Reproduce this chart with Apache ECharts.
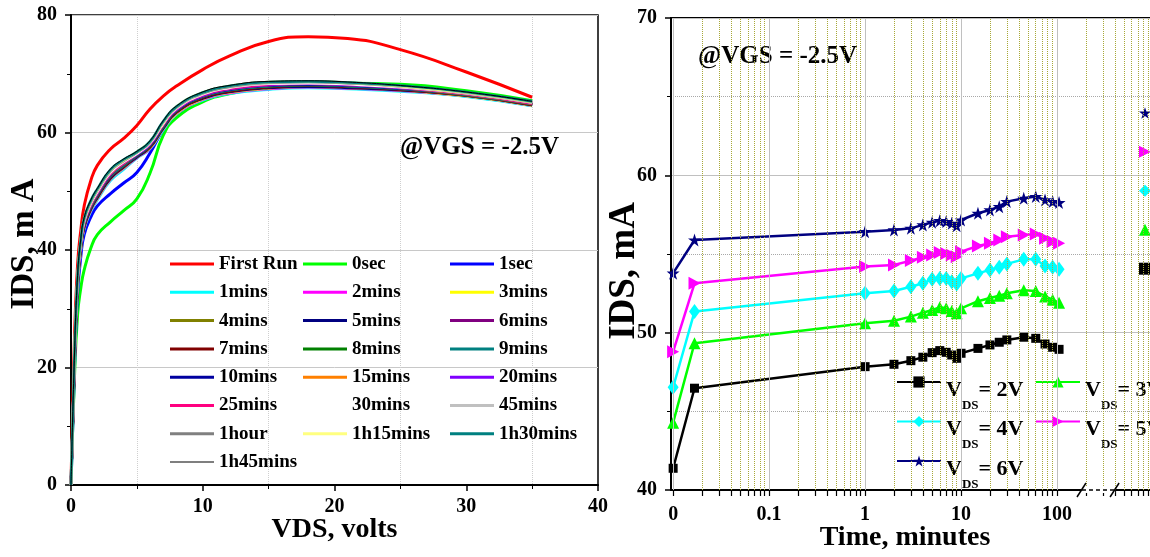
<!DOCTYPE html>
<html><head><meta charset="utf-8">
<script src="https://cdn.jsdelivr.net/npm/echarts@6/dist/echarts.min.js"></script>
<style>html,body{margin:0;padding:0;background:#fff;overflow:hidden}#c{width:1150px;height:557px}</style>
</head><body><div id="c"></div>
<script>
const FONT = '"Liberation Serif", "Times New Roman", serif';

// ---------- Left panel: IDS vs VDS ----------
const VDS = [0, 0.25, 0.5, 0.75, 1, 1.5, 2, 3, 4, 5, 6, 7, 8, 10, 12, 15, 18, 21, 25, 30, 35];
const I_FIRST_RUN = [0, 24, 37.5, 43.5, 47.5, 51.8, 54.4, 57.2, 59.0, 61.2, 64.0, 66.2, 67.9, 70.7, 73.0, 75.5, 76.3, 76.0, 74.1, 70.3, 66.0];
const I_0SEC  = [0, 17.5, 29.0, 33.6, 36.6, 40.3, 42.6, 44.8, 46.7, 48.7, 53.1, 59.5, 62.5, 65.2, 66.6, 67.6, 68.2, 68.4, 68.2, 67.1, 65.4];
const I_1SEC  = [0, 19.0, 32.5, 39.0, 42.6, 45.6, 47.5, 49.6, 51.4, 53.2, 56.5, 60.5, 63.3, 65.9, 67.0, 67.7, 67.9, 67.7, 67.2, 66.2, 64.6];
const I_1MIN  = [0, 18.8, 33.3, 40.0, 43.5, 46.5, 48.5, 51.8, 53.7, 55.6, 57.2, 60.4, 63.1, 65.5, 66.6, 67.3, 67.6, 67.4, 67.0, 66.1, 64.5];
const I_2MIN  = [0, 19.0, 33.5, 40.2, 43.7, 46.7, 48.7, 52.0, 53.9, 55.7, 57.3, 60.6, 63.2, 65.6, 66.7, 67.4, 67.7, 67.5, 67.1, 66.2, 64.6];
const I_3MIN  = [0, 19.2, 33.7, 40.3, 43.8, 46.8, 48.8, 52.1, 54.0, 55.8, 57.4, 60.6, 63.3, 65.7, 66.8, 67.5, 67.8, 67.6, 67.2, 66.2, 64.6];
const I_4MIN  = [0, 19.4, 33.9, 40.5, 44.0, 47.0, 49.0, 52.3, 54.2, 55.9, 57.5, 60.8, 63.5, 65.9, 67.0, 67.7, 67.9, 67.7, 67.3, 66.3, 64.7];
const I_5MIN  = [0, 19.3, 33.8, 40.4, 43.9, 46.9, 48.9, 52.2, 54.1, 55.8, 57.5, 60.7, 63.4, 65.8, 66.9, 67.6, 67.8, 67.6, 67.2, 66.3, 64.7];
const I_6MIN  = [0, 19.6, 34.1, 40.7, 44.2, 47.2, 49.2, 52.5, 54.3, 56.0, 57.7, 61.0, 63.6, 66.0, 67.1, 67.8, 68.0, 67.8, 67.4, 66.4, 64.8];
const I_7MIN  = [0, 19.5, 34.0, 40.6, 44.1, 47.1, 49.1, 52.4, 54.2, 56.0, 57.6, 60.9, 63.5, 65.9, 67.0, 67.7, 68.0, 67.8, 67.3, 66.3, 64.7];
const I_8MIN  = [0, 19.9, 34.4, 40.9, 44.4, 47.4, 49.4, 52.7, 54.5, 56.1, 57.8, 61.1, 63.7, 66.1, 67.2, 67.9, 68.1, 67.9, 67.5, 66.5, 64.9];
const I_9MIN  = [0, 19.8, 34.3, 40.8, 44.3, 47.3, 49.3, 52.6, 54.4, 56.1, 57.8, 61.0, 63.7, 66.1, 67.2, 67.9, 68.1, 67.9, 67.4, 66.4, 64.8];
const I_10MIN = [0, 20.0, 34.5, 41.0, 44.5, 47.5, 49.5, 52.8, 54.6, 56.2, 57.9, 61.2, 63.8, 66.2, 67.3, 68.0, 68.2, 68.0, 67.5, 66.5, 64.9];
const I_15MIN = [0, 20.1, 34.6, 41.1, 44.6, 47.6, 49.6, 52.9, 54.7, 56.3, 58.0, 61.3, 63.9, 66.3, 67.4, 68.1, 68.3, 68.1, 67.6, 66.5, 64.9];
const I_20MIN = [0, 20.2, 34.7, 41.2, 44.7, 47.7, 49.7, 53.0, 54.8, 56.3, 58.0, 61.4, 63.9, 66.3, 67.4, 68.1, 68.3, 68.1, 67.6, 66.6, 65.0];
const I_25MIN = [0, 20.4, 34.9, 41.3, 44.8, 47.8, 49.8, 53.1, 54.9, 56.4, 58.1, 61.4, 64.0, 66.4, 67.5, 68.2, 68.4, 68.2, 67.7, 66.6, 65.0];
const I_30MIN = [0, 20.5, 35.0, 41.4, 44.9, 47.9, 49.9, 53.2, 55.0, 56.4, 58.2, 61.5, 64.1, 66.5, 67.6, 68.3, 68.4, 68.2, 67.7, 66.7, 65.1];
const I_45MIN = [0, 20.7, 35.2, 41.6, 45.1, 48.1, 50.1, 53.4, 55.1, 56.6, 58.3, 61.7, 64.2, 66.6, 67.7, 68.4, 68.6, 68.4, 67.8, 66.7, 65.1];
const I_1HOUR = [0, 20.8, 35.3, 41.7, 45.2, 48.2, 50.2, 53.5, 55.2, 56.6, 58.4, 61.8, 64.3, 66.7, 67.8, 68.5, 68.6, 68.4, 67.9, 66.8, 65.2];
const I_1H15  = [0, 21.0, 35.5, 41.8, 45.3, 48.3, 50.3, 53.6, 55.3, 56.7, 58.5, 61.8, 64.4, 66.8, 67.9, 68.6, 68.7, 68.5, 67.9, 66.8, 65.2];
const I_1H30  = [0, 21.1, 35.6, 41.9, 45.4, 48.4, 50.4, 53.7, 55.4, 56.7, 58.5, 61.9, 64.4, 66.8, 67.9, 68.6, 68.7, 68.5, 68.0, 66.9, 65.3];
const I_1H45  = [0, 21.2, 35.7, 42.0, 45.5, 48.5, 50.5, 53.8, 55.5, 56.8, 58.6, 62.0, 64.5, 66.9, 68.0, 68.7, 68.8, 68.6, 68.0, 66.9, 65.3];

const RUN_NAMES = ['First Run','0sec','1sec','1mins','2mins','3mins','4mins','5mins','6mins','7mins','8mins','9mins',
  '10mins','15mins','20mins','25mins','30mins','45mins','1hour','1h15mins','1h30mins','1h45mins'];
const RUN_COLORS = ['#ff0000','#00ff00','#0000ff','#00ffff','#ff00ff','#ffff00','#808000','#000080','#800080','#800000','#008000','#008080',
  '#0000a0','#ff8000','#8000ff','#ff0080','#ffffff','#c0c0c0','#808080','#ffff80','#008080','#000000'];
const RUN_CURVES = [I_FIRST_RUN, I_0SEC, I_1SEC, I_1MIN, I_2MIN, I_3MIN, I_4MIN, I_5MIN, I_6MIN, I_7MIN, I_8MIN, I_9MIN,
  I_10MIN, I_15MIN, I_20MIN, I_25MIN, I_30MIN, I_45MIN, I_1HOUR, I_1H15, I_1H30, I_1H45];
const LEGEND_COL1 = ['First Run','1mins','4mins','7mins','10mins','25mins','1hour','1h45mins'];
const LEGEND_COL2 = ['0sec','2mins','5mins','8mins','15mins','30mins','1h15mins'];
const LEGEND_COL3 = ['1sec','3mins','6mins','9mins','20mins','45mins','1h30mins'];

// ---------- Right panel: IDS vs time ----------
const TIME_MIN = [0, 0.0167, 1, 2, 3, 4, 5, 6, 7, 8, 9, 10, 15, 20, 25, 30, 45, 60, 75, 90, 105];
const ZERO_POS = 0.01; // where "0" sits on the log axis
const I_VDS2 = [41.38, 46.47, 47.84, 47.99, 48.22, 48.44, 48.73, 48.86, 48.75, 48.58, 48.37, 48.69, 49.0, 49.22, 49.39, 49.54, 49.71, 49.64, 49.28, 49.07, 48.94];
const I_VDS3 = [44.28, 49.33, 50.6, 50.76, 51.02, 51.27, 51.44, 51.61, 51.55, 51.38, 51.23, 51.55, 52.0, 52.2, 52.35, 52.5, 52.7, 52.65, 52.3, 52.1, 51.9];
const I_VDS4 = [46.53, 51.34, 52.5, 52.65, 52.92, 53.14, 53.39, 53.45, 53.45, 53.24, 53.1, 53.45, 53.77, 53.99, 54.16, 54.37, 54.66, 54.66, 54.24, 54.16, 54.03];
const I_VDS5 = [48.79, 53.14, 54.2, 54.3, 54.58, 54.79, 54.94, 55.09, 55.03, 54.94, 54.83, 55.15, 55.51, 55.68, 55.89, 56.1, 56.21, 56.27, 56.0, 55.79, 55.68];
const I_VDS6 = [53.78, 55.89, 56.42, 56.53, 56.63, 56.85, 57.02, 57.12, 57.06, 56.95, 56.8, 57.16, 57.59, 57.8, 58.01, 58.33, 58.54, 58.65, 58.44, 58.33, 58.27];
const VDS_VOLTS = ['2V', '3V', '4V', '5V', '6V'];
const X_LABELS = {0.01: '0', 0.1: '0.1', 1: '1', 10: '10', 100: '100'};

const STAR = 'path://M5,0 L6.2,3.6 L10,3.6 L6.9,5.9 L8.1,9.5 L5,7.3 L1.9,9.5 L3.1,5.9 L0,3.6 L3.8,3.6 Z';
const RTRI = 'path://M0,0 L10,5 L0,10 Z';
const THIN = 'path://M0,0 L0.05,0 L0.05,0.05 L0,0.05 Z M0,1 L44,1 L44,2 L0,2 Z M0,2.95 L0.05,2.95 L0.05,3 L0,3 Z';
const VDS_STYLE = [
  {color: '#000000', symbol: 'rect', size: 9},
  {color: '#00ff00', symbol: 'triangle', size: 12},
  {color: '#00ffff', symbol: 'diamond', size: [11, 15]},
  {color: '#ff00ff', symbol: RTRI, size: [12, 13]},
  {color: '#000080', symbol: STAR, size: 13}
];
const VDS_CURVES = [I_VDS2, I_VDS3, I_VDS4, I_VDS5, I_VDS6];
const vdsName = v => 'VDS = ' + v;

// log-axis grid/tick positions (1..9 per decade)
const GRID_X = [];
for (let e = -2; e <= 2; e++) for (let k = 1; k <= 9; k++) GRID_X.push(+(k * Math.pow(10, e)).toPrecision(3));
const TICK_X = GRID_X.slice();
const OLIVE = '#a8a838';

const chart = echarts.init(document.getElementById('c'), null, {renderer: 'canvas'});

const txt = (size) => ({fontFamily: FONT, fontWeight: 'bold', fontSize: size, color: '#000'});
const blackLine = {lineStyle: {color: '#000', width: 2}};

const leftSeries = RUN_NAMES.map((name, i) => ({
  name, type: 'line', xAxisIndex: 0, yAxisIndex: 0,
  data: VDS.map((v, j) => [v, RUN_CURVES[i][j]]),
  symbol: 'none', smooth: 0.5,
  lineStyle: {color: RUN_COLORS[i], width: name === '1h45mins' ? 1 : (i < 3 ? 3 : 2.6)},
  itemStyle: {color: RUN_COLORS[i]},
  emphasis: {disabled: true}, z: 2, animation: false
}));

const rightSeries = VDS_VOLTS.map((v, i) => ({
  name: vdsName(v), type: 'line', xAxisIndex: 1, yAxisIndex: 1,
  data: TIME_MIN.map((t, j) => [t === 0 ? ZERO_POS : t, VDS_CURVES[i][j]]),
  symbol: VDS_STYLE[i].symbol, symbolSize: VDS_STYLE[i].size, showSymbol: true,
  lineStyle: {color: VDS_STYLE[i].color, width: 2.5},
  itemStyle: {color: VDS_STYLE[i].color},
  emphasis: {disabled: true}, clip: false, z: 3, animation: false
}));

const gridSeries = {
  name: '_grid', type: 'line', xAxisIndex: 1, yAxisIndex: 1, data: [], silent: true, z: 1, animation: false,
  markLine: {
    silent: true, symbol: ['none', 'none'], label: {show: false}, animation: false,
    data: GRID_X.map(v => {
      const dec = Math.abs(Math.log10(v) - Math.round(Math.log10(v))) < 1e-9;
      return {xAxis: v, lineStyle: dec ? {color: '#c0c0c0', type: 'solid', width: 1} : {color: OLIVE, type: 'dotted', width: 1}};
    }).concat([200, 300, 400, 500, 600, 700, 800, 900].map(v => ({xAxis: v, lineStyle: {color: OLIVE, type: 'dotted', width: 1}})))
  }
};

const leftLegend = (names, left) => ({
  data: names.map(n => ({name: n, icon: n === '1h45mins' ? THIN : 'rect'})),
  orient: 'vertical', left, top: 254.5, padding: 0,
  itemWidth: 44, itemHeight: 3, itemGap: 9.3, selectedMode: false,
  textStyle: txt(19)
});

const richV = {fontFamily: FONT, fontWeight: 'bold', fontSize: 22, lineHeight: 24, verticalAlign: 'top', padding: [9, 0, 0, 0], color: '#000'};
const richS = {fontFamily: FONT, fontWeight: 'bold', fontSize: 13, lineHeight: 13, verticalAlign: 'top', padding: [29, 0, 0, 0], color: '#000'};
const rightLegend = (volts, left) => ({
  data: volts.map(vdsName), orient: 'vertical', left, top: 370, padding: 0,
  itemWidth: 44, itemHeight: 14, itemGap: -2.5, selectedMode: false,
  formatter: name => '{v|V}{s|DS}{v|= ' + name.split('= ')[1] + '}',
  textStyle: {rich: {v: richV, s: richS}}
});

const option = {
  backgroundColor: '#fff',
  animation: false,
  grid: [
    {left: 71, top: 15, width: 527, height: 470, show: true, borderColor: '#000', borderWidth: 1.5, backgroundColor: 'transparent', outerBoundsMode: 'none', containLabel: false},
    {left: 671, top: 18, width: 482, height: 472, show: true, borderColor: '#000', borderWidth: 2, backgroundColor: 'transparent', outerBoundsMode: 'none', containLabel: false}
  ],
  xAxis: [
    {type: 'value', gridIndex: 0, min: 0, max: 40, interval: 10,
     axisLine: {onZero: false, ...blackLine}, axisTick: {show: true, length: 6, lineStyle: {color: '#000', width: 1.5}},
     minorTick: {show: true, splitNumber: 2, length: 4, lineStyle: {color: '#000', width: 1}},
     splitLine: {show: false}, minorSplitLine: {show: true, lineStyle: {color: '#cfcfcf', type: 'dotted', width: 1}},
     axisLabel: {...txt(20), margin: 12},
     name: 'VDS, volts', nameLocation: 'middle', nameGap: 31, nameMoveOverlap: false, nameTextStyle: txt(28)},
    {type: 'log', logBase: 10, gridIndex: 1, min: 0.0095, max: 1000,
     axisLine: {onZero: false, ...blackLine},
     axisTick: {show: true, length: 6, customValues: TICK_X, lineStyle: {color: '#000', width: 1.2}},
     splitLine: {show: false}, minorTick: {show: false},
     axisLabel: {...txt(20), margin: 15, showMinLabel: true, showMaxLabel: false,
       formatter: v => { for (const k in X_LABELS) { if (Math.abs(v - (+k)) / (+k) < 1e-6) return X_LABELS[k]; } return ''; }},
     name: 'Time, minutes', nameLocation: 'middle', nameGap: 34, nameMoveOverlap: false, nameTextStyle: {...txt(28), padding: [0, 14, 0, 0]}}
  ],
  yAxis: [
    {type: 'value', gridIndex: 0, min: 0, max: 80, interval: 20,
     axisLine: {onZero: false, ...blackLine}, axisTick: {show: true, length: 6, lineStyle: {color: '#000', width: 1.5}},
     minorTick: {show: true, splitNumber: 2, length: 4, lineStyle: {color: '#000', width: 1}},
     splitLine: {show: true, lineStyle: {color: '#c8c8c8', width: 1}}, minorSplitLine: {show: false},
     axisLabel: {...txt(20), margin: 14},
     name: 'IDS, m A', nameLocation: 'middle', nameGap: 30, nameRotate: 90, nameMoveOverlap: false,
     nameTextStyle: {...txt(33), padding: [0, 0, 0, 12]}},
    {type: 'value', gridIndex: 1, min: 40, max: 70, interval: 10,
     axisLine: {onZero: false, ...blackLine}, axisTick: {show: true, length: 6, lineStyle: {color: '#000', width: 1.5}},
     minorTick: {show: true, splitNumber: 2, length: 4, lineStyle: {color: '#000', width: 1}},
     splitLine: {show: true, lineStyle: {color: '#c0c0c0', width: 1}},
     minorSplitLine: {show: true, lineStyle: {color: '#a8a8a8', type: 'dotted', width: 1}},
     axisLabel: {...txt(20), margin: 14},
     name: 'IDS, mA', nameLocation: 'middle', nameGap: 28, nameRotate: 90, nameMoveOverlap: false,
     nameTextStyle: {...txt(37), padding: [0, 34, 0, 0]}}
  ],
  legend: [
    leftLegend(LEGEND_COL1, 170),
    leftLegend(LEGEND_COL2, 303),
    leftLegend(LEGEND_COL3, 450),
    rightLegend(['2V', '4V', '6V'], 896),
    rightLegend(['3V', '5V'], 1035),
    {data: [
       {name: vdsName('6V'), icon: STAR}, {name: vdsName('5V'), icon: RTRI}, {name: vdsName('4V'), icon: 'diamond'},
       {name: vdsName('3V'), icon: 'triangle'}, {name: vdsName('2V'), icon: 'rect'}],
     orient: 'vertical', left: 1139, top: 107, padding: 0, itemWidth: 12, itemHeight: 12, itemGap: 27,
     selectedMode: false, formatter: () => '', textStyle: {fontSize: 1}}
  ],
  series: leftSeries.concat([gridSeries]).concat(rightSeries)
};
chart.setOption(option);

// annotations and axis-break marks
const bx1 = chart.convertToPixel({xAxisIndex: 1}, 182);
const bx2 = chart.convertToPixel({xAxisIndex: 1}, 393);
const by = chart.convertToPixel({yAxisIndex: 1}, 40);
chart.setOption({
  graphic: {elements: [
    {type: 'text', x: 400, y: 148, silent: true, style: {text: '@VGS = -2.5V', font: 'bold 25px ' + FONT, fill: '#000', textVerticalAlign: 'middle'}},
    {type: 'text', x: 698, y: 57, silent: true, style: {text: '@VGS = -2.5V', font: 'bold 25px ' + FONT, fill: '#000', textVerticalAlign: 'middle'}},
    {type: 'rect', silent: true, z: 100, shape: {x: bx1 - 1, y: by - 3, width: bx2 - bx1 + 2, height: 6}, style: {fill: '#fff'}},
    {type: 'line', silent: true, z: 101, shape: {x1: bx1, y1: by, x2: bx2, y2: by}, style: {stroke: '#000', lineWidth: 1.5, lineDash: [4, 3]}},
    {type: 'line', silent: true, z: 101, shape: {x1: bx1 - 5, y1: by + 7, x2: bx1 + 4, y2: by - 7}, style: {stroke: '#000', lineWidth: 1.5}},
    {type: 'line', silent: true, z: 101, shape: {x1: bx2 - 4, y1: by + 7, x2: bx2 + 5, y2: by - 7}, style: {stroke: '#000', lineWidth: 1.5}}
  ]}
});
</script></body></html>
